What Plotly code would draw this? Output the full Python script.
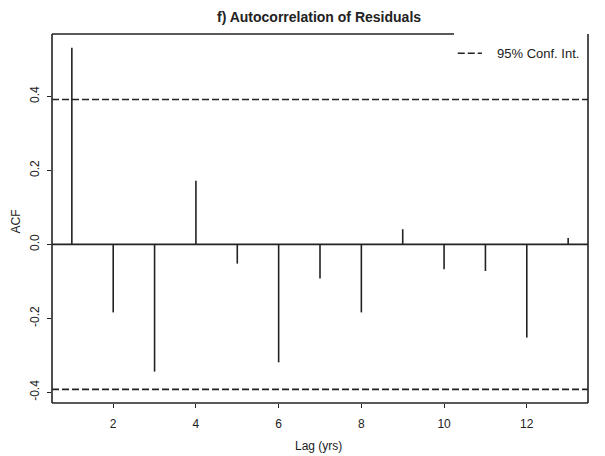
import plotly.graph_objects as go

# Data
lags = [1, 2, 3, 4, 5, 6, 7, 8, 9, 10, 11, 12, 13]
acf_vals = [0.532, -0.184, -0.344, 0.172, -0.052, -0.319, -0.092, -0.184,
            0.041, -0.067, -0.072, -0.252, 0.017]
conf_limit = 0.392
x_ticks = [2, 4, 6, 8, 10, 12]
y_ticks = [-0.4, -0.2, 0.0, 0.2, 0.4]
y_tick_labels = ["-0.4", "-0.2", "0.0", "0.2", "0.4"]

FONT = "Liberation Sans, Arial, sans-serif"
INK = "#222222"

# R-style axis ranges (4% extension)
xmin, xmax = min(lags), max(lags)
xr = [xmin - 0.04 * (xmax - xmin), xmax + 0.04 * (xmax - xmin)]
ylo = min(min(acf_vals), -conf_limit)
yhi = max(max(acf_vals), conf_limit)
yr = [ylo - 0.04 * (yhi - ylo), yhi + 0.04 * (yhi - ylo)]

# vertical spikes
xs, ys = [], []
for l, v in zip(lags, acf_vals):
    xs += [l, l, None]
    ys += [0, v, None]

fig = go.Figure()
fig.add_trace(go.Scatter(x=xs, y=ys, mode="lines",
                         line=dict(color=INK, width=1.6),
                         showlegend=False, hoverinfo="skip"))

shapes = []
# zero line
shapes.append(dict(type="line", xref="x domain", yref="y", x0=0, x1=1, y0=0, y1=0,
                   line=dict(color=INK, width=1.6)))
# confidence limits
for c in (conf_limit, -conf_limit):
    shapes.append(dict(type="line", xref="x domain", yref="y", x0=0, x1=1, y0=c, y1=c,
                       line=dict(color=INK, width=1.6, dash="7px,3px")))
# frame: left, bottom, right full; top partial (legend box hides the rest)
frame = dict(color=INK, width=1.6)
shapes.append(dict(type="line", xref="x domain", yref="y domain", x0=0, x1=0, y0=0, y1=1, line=frame))
shapes.append(dict(type="line", xref="x domain", yref="y domain", x0=0, x1=1, y0=0, y1=0, line=frame))
shapes.append(dict(type="line", xref="x domain", yref="y domain", x0=1, x1=1, y0=0, y1=1, line=frame))
shapes.append(dict(type="line", xref="x domain", yref="y domain", x0=0, x1=0.75, y0=1, y1=1, line=frame))
# legend key
shapes.append(dict(type="line", xref="x domain", yref="y domain", x0=0.757, x1=0.802,
                   y0=0.948, y1=0.948, line=dict(color=INK, width=1.6, dash="7px,3px")))

annotations = [
    dict(text="95% Conf. Int.", xref="x domain", yref="y domain",
         x=0.826, y=0.948, xanchor="left", yanchor="middle", showarrow=False,
         font=dict(size=13, family=FONT, color=INK)),
    dict(text="<b>f) Autocorrelation of Residuals</b>", xref="paper", yref="paper",
         x=0.499, y=1, yshift=17.5, xanchor="center", yanchor="middle",
         showarrow=False, font=dict(size=14, family=FONT, color=INK)),
    dict(text="Lag (yrs)", xref="x domain", yref="y domain", x=0.5, xshift=-2,
         y=0, yshift=-42.7, xanchor="center", yanchor="middle", showarrow=False,
         font=dict(size=12, family=FONT, color=INK)),
    dict(text="ACF", xref="x domain", yref="y domain", x=0, xshift=-37,
         y=0.5, yshift=-3, xanchor="center", yanchor="middle", textangle=-90,
         showarrow=False, font=dict(size=12, family=FONT, color=INK)),
]

fig.update_layout(
    width=605, height=456,
    margin=dict(l=52, r=17, t=34, b=53, autoexpand=False),
    paper_bgcolor="white", plot_bgcolor="white",
    font=dict(family=FONT, color=INK, size=12),
    shapes=shapes,
    annotations=annotations,
    showlegend=False,
)
fig.update_xaxes(range=xr, tickmode="array", tickvals=x_ticks,
                 ticks="outside", ticklen=4, tickwidth=1, tickcolor=INK,
                 showgrid=False, zeroline=False, showline=False, automargin=False,
                 ticklabelstandoff=6,
                 tickfont=dict(size=12, family=FONT, color=INK))
fig.update_yaxes(range=yr, tickmode="array", tickvals=y_ticks, ticktext=y_tick_labels,
                 ticks="outside", ticklen=4, tickwidth=1, tickcolor=INK, tickangle=-90,
                 showgrid=False, zeroline=False, showline=False, automargin=False,
                 ticklabelstandoff=3,
                 tickfont=dict(size=12, family=FONT, color=INK))

fig.write_html("out.html", config={"displayModeBar": False},
               post_script="document.body.style.margin='0';document.body.style.padding='0';")
